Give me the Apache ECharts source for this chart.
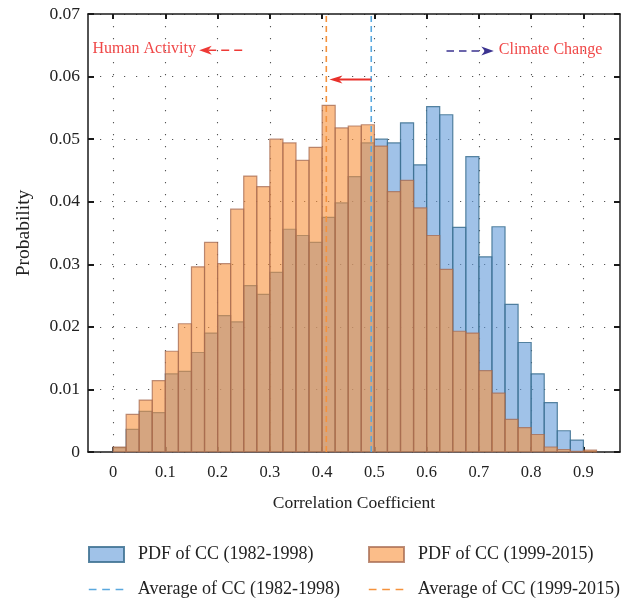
<!DOCTYPE html>
<html>
<head>
<meta charset="utf-8">
<script src="https://cdn.jsdelivr.net/npm/echarts@6/dist/echarts.min.js"></script>
<style>html,body{margin:0;padding:0;background:#fff}#c{width:632px;height:599px}</style>
</head>
<body>
<div id="c"></div>
<script>
// Histogram bins (start of each bin); bin width 0.025
const binStart = [0, 0.025, 0.05, 0.075, 0.1, 0.125, 0.15, 0.175, 0.2, 0.225,
  0.25, 0.275, 0.3, 0.325, 0.35, 0.375, 0.4, 0.425, 0.45, 0.475,
  0.5, 0.525, 0.55, 0.575, 0.6, 0.625, 0.65, 0.675, 0.7, 0.725,
  0.75, 0.775, 0.8, 0.825, 0.85, 0.875, 0.9, 0.925];
const binWidth = 0.025;
// PDF of CC (1982-1998)
const pdf1982 = [0.0007, 0.0036, 0.0065, 0.0063, 0.0125, 0.0129, 0.0159, 0.0190, 0.0218, 0.0208,
  0.0266, 0.0252, 0.0287, 0.0356, 0.0346, 0.0335, 0.0375, 0.0398, 0.0440, 0.0494,
  0.0500, 0.0494, 0.0526, 0.0459, 0.0552, 0.0539, 0.0359, 0.0472, 0.0312, 0.0360,
  0.0236, 0.0175, 0.0125, 0.0079, 0.0034, 0.0019, 0, 0];
// PDF of CC (1999-2015)
const pdf1999 = [0.0008, 0.0060, 0.0083, 0.0114, 0.0161, 0.0205, 0.0296, 0.0335, 0.0301, 0.0388,
  0.0441, 0.0424, 0.0500, 0.0494, 0.0466, 0.0487, 0.0554, 0.0518, 0.0521, 0.0523,
  0.0489, 0.0416, 0.0434, 0.0390, 0.0346, 0.0292, 0.0193, 0.0190, 0.0130, 0.0094,
  0.0052, 0.0039, 0.0028, 0.0008, 0.0004, 0.0001, 0.0003, 0];
// Averages
const avg1982 = 0.494;
const avg1999 = 0.408;
// Tick labels
const xTicks = [0, 0.1, 0.2, 0.3, 0.4, 0.5, 0.6, 0.7, 0.8, 0.9];
const yTicks = [0, 0.01, 0.02, 0.03, 0.04, 0.05, 0.06, 0.07];

const FONT = 'Liberation Serif';
const names = ['PDF of CC (1982-1998)', 'PDF of CC (1999-2015)',
  'Average of CC (1982-1998)', 'Average of CC (1999-2015)'];

function histData(vals) {
  return binStart.map((s, i) => [s, s + binWidth, vals[i]]);
}
function barRender(params, api) {
  const x0 = api.value(0), x1 = api.value(1), v = api.value(2);
  if (!v) return null;
  const p0 = api.coord([x0, v]);
  const p1 = api.coord([x1, 0]);
  return {
    type: 'rect',
    shape: { x: p0[0], y: p0[1], width: p1[0] - p0[0], height: p1[1] - p0[1] },
    style: api.style()
  };
}
function arrowHead(tip, dir, L, H, color) {
  const [tx, ty] = tip;
  return {
    type: 'polygon',
    shape: { points: [[tx, ty], [tx - dir * L, ty - H / 2], [tx - dir * L * 0.72, ty], [tx - dir * L, ty + H / 2]] },
    style: { fill: color }
  };
}
function annotRender(params, api) {
  const red = '#ee3a36';
  const navy = '#3b3390';
  const ha = api.coord([-0.0395, 0.0645]);
  const haTip = api.coord([0.1648, 0.0642]);
  const haTail = api.coord([0.256, 0.0642]);
  const ccTail = api.coord([0.638, 0.0641]);
  const ccTip = api.coord([0.7285, 0.0641]);
  const ccText = api.coord([0.738, 0.0642]);
  const shTail = api.coord([avg1982, 0.05954]);
  const shTip = api.coord([avg1999 + 0.006, 0.05954]);
  return {
    type: 'group',
    children: [
      { type: 'text', style: { text: 'Human Activity', x: ha[0], y: ha[1], fill: '#f04848', font: '16px "' + FONT + '"', verticalAlign: 'middle', align: 'left' } },
      { type: 'line', shape: { x1: haTip[0] + 9, y1: haTip[1], x2: haTail[0], y2: haTail[1] }, style: { stroke: red, lineWidth: 1.5, lineDash: [8, 5] } },
      arrowHead(haTip, -1, 12.5, 9, red),
      { type: 'line', shape: { x1: ccTail[0], y1: ccTail[1], x2: ccTip[0] - 9, y2: ccTip[1] }, style: { stroke: navy, lineWidth: 1.5, lineDash: [7.5, 5] } },
      arrowHead(ccTip, 1, 12.5, 9, navy),
      { type: 'text', style: { text: 'Climate Change', x: ccText[0], y: ccText[1], fill: '#f04848', font: '16px "' + FONT + '"', verticalAlign: 'middle', align: 'left' } },
      { type: 'line', shape: { x1: shTail[0], y1: shTail[1], x2: shTip[0] + 8, y2: shTip[1] }, style: { stroke: '#e8302a', lineWidth: 2 } },
      arrowHead(shTip, -1, 13, 8, '#e8302a')
    ]
  };
}

const axisLineStyle = { color: '#1a1a1a', width: 1.5 };
const tickStyle = { color: '#1a1a1a', width: 2 };
const dotted = { color: '#555', width: 1.1, type: [1.2, 10.8] };

const option = {
  animation: false,
  backgroundColor: '#fff',
  textStyle: { fontFamily: FONT },
  grid: { left: 88, right: 12, top: 14, bottom: 147, containLabel: false },
  xAxis: [{
    type: 'value', min: -0.048, max: 0.97, position: 'bottom',
    name: 'Correlation Coefficient', nameLocation: 'middle', nameGap: 42,
    nameTextStyle: { fontFamily: FONT, fontSize: 17.5, color: '#222' },
    axisLine: { show: true, onZero: false, lineStyle: axisLineStyle },
    axisTick: { show: true, inside: true, length: 5, lineStyle: tickStyle, customValues: xTicks },
    axisLabel: { show: true, customValues: xTicks, margin: 12, fontFamily: FONT, fontSize: 16.5, color: '#222',
      formatter: v => (v === 0 ? '0' : v.toFixed(1)) },
    splitLine: { show: true, lineStyle: dotted }
  }, {
    type: 'value', min: -0.048, max: 0.97, position: 'top',
    axisLine: { show: true, onZero: false, lineStyle: axisLineStyle },
    axisTick: { show: true, inside: true, length: 5, lineStyle: tickStyle, customValues: xTicks },
    axisLabel: { show: false },
    splitLine: { show: false }
  }],
  yAxis: [{
    type: 'value', min: 0, max: 0.07, interval: 0.01, position: 'left',
    name: 'Probability', nameLocation: 'middle', nameGap: 54,
    nameTextStyle: { fontFamily: FONT, fontSize: 19.5, color: '#222' },
    axisLine: { show: true, onZero: false, lineStyle: axisLineStyle },
    axisTick: { show: true, inside: true, length: 6, lineStyle: tickStyle },
    axisLabel: { margin: 8, fontFamily: FONT, fontSize: 17.5, color: '#222',
      formatter: v => (v === 0 ? '0' : v.toFixed(2)) },
    splitLine: { show: true, lineStyle: dotted }
  }, {
    type: 'value', min: 0, max: 0.07, interval: 0.01, position: 'right',
    axisLine: { show: true, onZero: false, lineStyle: axisLineStyle },
    axisTick: { show: true, inside: true, length: 6, lineStyle: tickStyle },
    axisLabel: { show: false },
    splitLine: { show: false }
  }],
  legend: [
    { data: [{ name: names[0], icon: 'rect' }], left: 88, top: 545.5 },
    { data: [{ name: names[1], icon: 'rect' }], left: 368, top: 545.5 },
    { data: [{ name: names[2] }], left: 88, top: 580.5, itemStyle: { opacity: 0 } },
    { data: [{ name: names[3] }], left: 368, top: 580.5, itemStyle: { opacity: 0 } }
  ].map(l => Object.assign({
    orient: 'horizontal', padding: 0, itemWidth: 35, itemHeight: 15,
    selectedMode: false,
    textStyle: { fontFamily: FONT, fontSize: 18, color: '#222', padding: [0, 0, 0, 9] },
    lineStyle: { type: [7.7, 5.7], width: 1.6 }
  }, l)),
  series: [
    {
      name: names[0], type: 'custom', renderItem: barRender,
      data: histData(pdf1982), encode: { x: [0, 1], y: 2 },
      itemStyle: { color: 'rgba(97,153,217,0.6)', borderColor: 'rgba(60,112,145,0.85)', borderWidth: 1.2 },
      z: 2
    },
    {
      name: names[1], type: 'custom', renderItem: barRender,
      data: histData(pdf1999), encode: { x: [0, 1], y: 2 },
      itemStyle: { color: 'rgba(248,145,58,0.6)', borderColor: 'rgba(165,105,80,0.75)', borderWidth: 1.2 },
      z: 3
    },
    {
      name: names[2], type: 'line', symbol: 'none',
      data: [[avg1982, 0], [avg1982, 0.07]],
      lineStyle: { color: '#5aa8de', width: 1.6, type: [6, 4] },
      itemStyle: { color: '#5aa8de' },
      z: 4
    },
    {
      name: names[3], type: 'line', symbol: 'none',
      data: [[avg1999, 0], [avg1999, 0.07]],
      lineStyle: { color: '#f5923c', width: 1.6, type: [6, 4] },
      itemStyle: { color: '#f5923c' },
      z: 4
    },
    {
      type: 'custom', renderItem: annotRender, data: [[0, 0]], silent: true, z: 5
    }
  ]
};
const chart = echarts.init(document.getElementById('c'), null, { renderer: 'canvas' });
chart.setOption(option);
</script>
</body>
</html>
